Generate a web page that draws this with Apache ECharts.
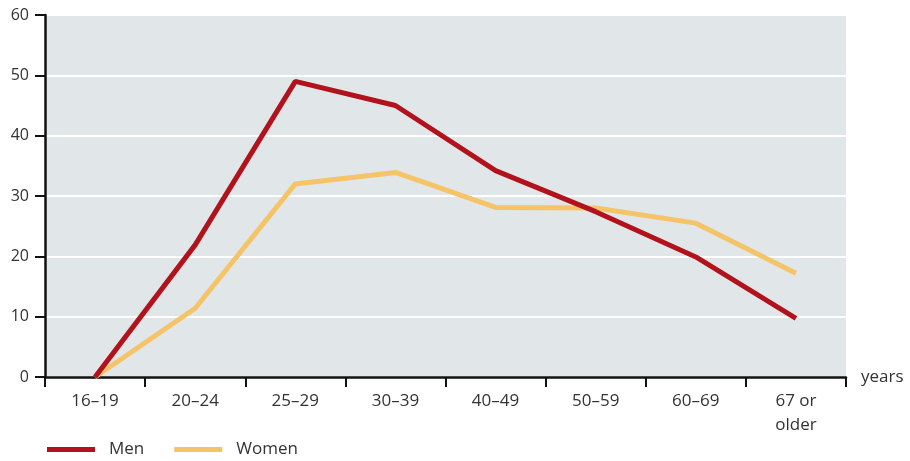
<!DOCTYPE html>
<html>
<head>
<meta charset="utf-8">
<script src="https://cdn.jsdelivr.net/npm/echarts@6/dist/echarts.min.js"></script>
<style>html,body{margin:0;padding:0;background:#fff}#c{width:910px;height:461px}</style>
</head>
<body>
<div id="c"></div>
<script>
var categories = ['16–19', '20–24', '25–29', '30–39', '40–49', '50–59', '60–69', '67 or\nolder'];
var men = [0, 21.9, 49.0, 45.0, 34.2, 27.4, 19.9, 9.7];
var women = [0, 11.4, 32.0, 33.9, 28.1, 28.0, 25.5, 17.2];
var yTicks = [0, 10, 20, 30, 40, 50, 60];

var font = 'Open Sans';
var chart = echarts.init(document.getElementById('c'));
chart.setOption({
  animation: false,
  textStyle: { fontFamily: font, color: '#333' },
  grid: { left: 45, right: 64, top: 15, bottom: 84, show: true, backgroundColor: '#E1E6E9', borderWidth: 0 },
  legend: {
    left: 42, top: 436,
    itemWidth: 48, itemHeight: 5, itemGap: 30,
    icon: 'rect',
    textStyle: { fontFamily: font, fontSize: 17, color: '#333', padding: [0, 0, 0, 9] },
    data: ['Men', 'Women']
  },
  xAxis: {
    type: 'category',
    data: categories,
    boundaryGap: true,
    name: 'years',
    nameLocation: 'end',
    nameGap: 15,
    nameTextStyle: { fontFamily: font, fontSize: 17, color: '#333', verticalAlign: 'middle', padding: [4, 0, 0, 0] },
    axisLine: { show: true, lineStyle: { color: '#111', width: 2.5 } },
    axisTick: { show: true, length: 10, interval: 0, lineStyle: { color: '#111', width: 2 } },
    axisLabel: { interval: 0, margin: 12, fontSize: 17, color: '#333', lineHeight: 24 },
    splitLine: { show: false }
  },
  yAxis: {
    type: 'value',
    min: yTicks[0], max: yTicks[yTicks.length - 1], interval: 10,
    axisLine: { show: true, lineStyle: { color: '#111', width: 2.5 } },
    axisTick: { show: true, length: 10, lineStyle: { color: '#111', width: 2 } },
    axisLabel: { margin: 16, fontSize: 16, color: '#333' },
    splitLine: { show: true, lineStyle: { color: '#ffffff', width: 2 } }
  },
  series: [
    { name: 'Men', type: 'line', data: men, symbol: 'none', color: '#B2121C', lineStyle: { width: 5, color: '#B2121C' }, z: 3 },
    { name: 'Women', type: 'line', data: women, symbol: 'none', color: '#F6C468', lineStyle: { width: 5, color: '#F6C468' }, z: 2 }
  ]
});
</script>
</body>
</html>
